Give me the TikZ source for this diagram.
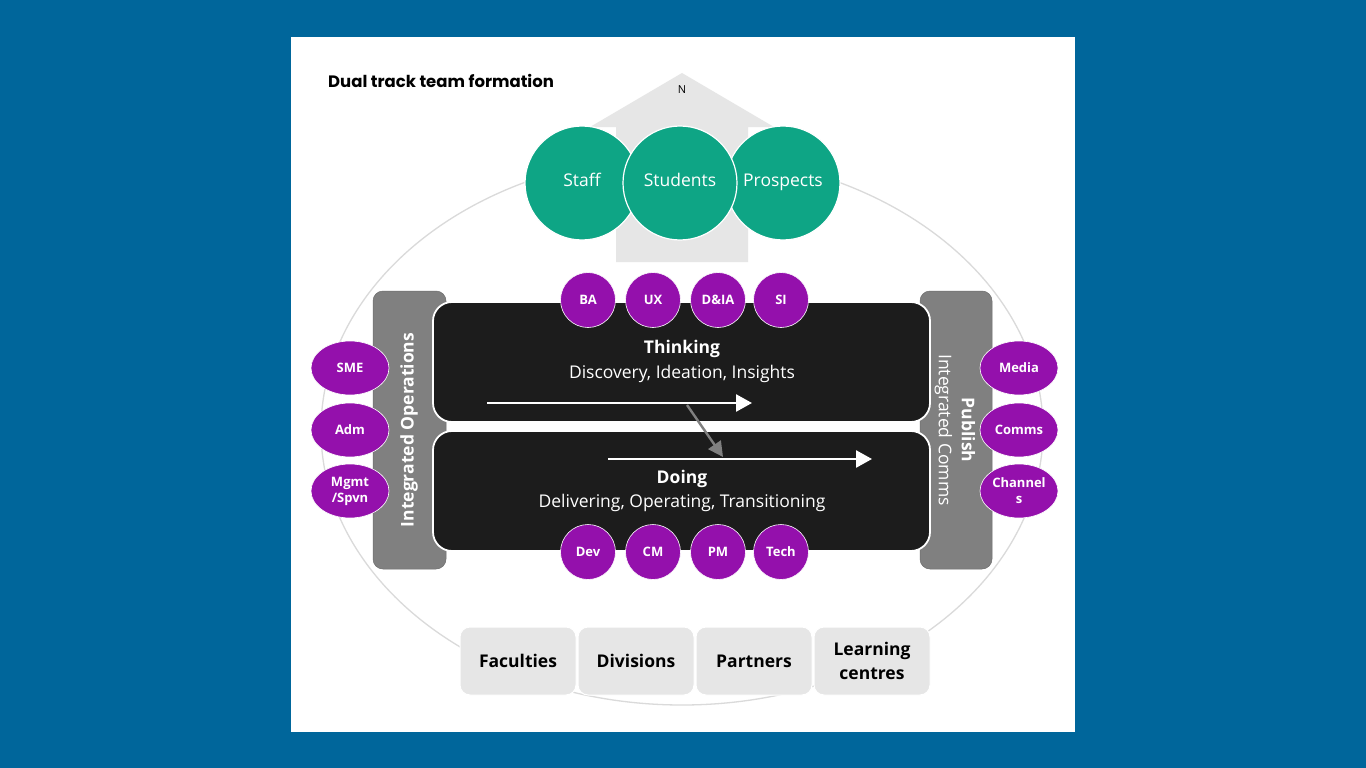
\documentclass[tikz,border=0pt]{standalone}
\usepackage{fontspec}
\setmainfont{Open Sans}
\newfontfamily\titlefont{Poppins}
\usetikzlibrary{arrows.meta,shapes.geometric}

\definecolor{pagebg}{HTML}{00669B}
\definecolor{ringgray}{HTML}{DADADA}
\definecolor{housegray}{HTML}{E6E6E6}
\definecolor{stakegreen}{HTML}{0EA585}
\definecolor{rolepurple}{HTML}{9410AC}
\definecolor{trackblack}{HTML}{1C1C1C}
\definecolor{bargray}{HTML}{808080}

\begin{document}
\begin{tikzpicture}[
  x=1pt,
  y=-1pt,
  font=\fontsize{17.5}{21}\selectfont,
  stake/.style={circle,fill=stakegreen,draw=white,line width=1.2pt,minimum size=114pt,
    inner sep=0pt,text=white,text height=.8em,text depth=.2em,
    font=\fontsize{17.5}{21}\selectfont},
  role/.style={circle,fill=rolepurple,draw=white,line width=.6pt,minimum size=55pt,
    inner sep=0pt,text=white,font=\bfseries\fontsize{13}{16}\selectfont},
  helper/.style={ellipse,fill=rolepurple,draw=white,line width=.6pt,minimum width=78pt,
    minimum height=54pt,inner sep=0pt,text=white,align=center,
    font=\bfseries\fontsize{13}{16}\selectfont},
  sidebar/.style={fill=bargray,draw=bargray!85!black,line width=.5pt,rounded corners=10pt},
  track/.style={fill=trackblack,draw=white,line width=1.8pt,rounded corners=19pt},
  unitbox/.style={fill=housegray,draw=white,line width=1pt,rounded corners=10pt,
    minimum width=116pt,minimum height=68pt,inner sep=0pt,align=center,
    font=\bfseries\fontsize{17.5}{24}\selectfont},
  flow/.style={draw=white,line width=2.6pt,-{Triangle[length=16pt,width=17pt]}},
  handover/.style={draw=bargray,line width=2.4pt,-{Triangle[length=15pt,width=15pt]}}
]
\useasboundingbox (0,0) rectangle (1366,768);

% page and card
\fill[pagebg] (0,0) rectangle (1366,768);
\fill[white] (291,37) rectangle (1075,732);

\node[anchor=base west,inner sep=0pt,font=\titlefont\bfseries\fontsize{16.5}{19}\selectfont]
  (title) at (328,88) {Dual track team formation};

% outer ring
\draw[ringgray,line width=1.3pt] (682,430) ellipse [x radius=361,y radius=275];

% north arrow behind the stakeholders
\fill[housegray] (682,73) -- (774,127) -- (748,127) -- (748,262)
  -- (616,262) -- (616,127) -- (590,127) -- cycle;
\node[font=\fontsize{11}{13}\selectfont] (north) at (682,90) {N};

\node[stake] (staff) at (582,183) {Staff};
\node[stake] (prospects) at (783,183) {Prospects};
\node[stake] (students) at (680,183) {Students};

% side bars
\draw[sidebar] (373,291) rectangle (446,569);
\draw[sidebar] (920,291) rectangle (992,569);
\node[rotate=90,text=white,font=\bfseries\fontsize{17.5}{21}\selectfont]
  (ops) at (409,430) {Integrated Operations};
\node[rotate=-90,text=white,align=center,font=\fontsize{17.5}{23}\selectfont]
  (comms) at (955,430) {\textbf{Publish}\\Integrated Comms};

% the two tracks
\draw[track] (433,302) rectangle (930,422);
\draw[track] (433,431) rectangle (930,551);

\node[text=white,font=\bfseries\fontsize{17.5}{21}\selectfont] (thinking) at (682,349) {Thinking};
\node[text=white] (thinkingsub) at (682,374) {Discovery, Ideation, Insights};
\node[text=white,font=\bfseries\fontsize{17.5}{21}\selectfont] (doing) at (682,479) {Doing};
\node[text=white] (doingsub) at (682,503) {Delivering, Operating, Transitioning};

\coordinate (thinkstart) at (487,403);
\coordinate (thinkend) at (752,403);
\coordinate (dostart) at (608,459);
\coordinate (doend) at (872,459);
\coordinate (handfrom) at (687,405);
\coordinate (handto) at (723,457);
\draw[flow] (thinkstart) -- (thinkend);
\draw[flow] (dostart) -- (doend);
\draw[handover] (handfrom) -- (handto);

% roles on the tracks
\node[role] (ba) at (588,300) {BA};
\node[role] (ux) at (653,300) {UX};
\node[role] (dia) at (718,300) {D\&IA};
\node[role] (si) at (781,300) {SI};

\node[role] (dev) at (588,552) {Dev};
\node[role] (cm) at (653,552) {CM};
\node[role] (pm) at (718,552) {PM};
\node[role] (tech) at (781,552) {Tech};

% helpers on the bars
\node[helper] (sme) at (350,368) {SME};
\node[helper] (adm) at (350,430) {Adm};
\node[helper] (mgmt) at (350,491) {Mgmt\\/Spvn};

\node[helper] (media) at (1019,368) {Media};
\node[helper] (commsrole) at (1019,430) {Comms};
\node[helper] (channels) at (1019,491) {Channel\\s};

% units at the base
\node[unitbox] (faculties) at (518,661) {Faculties};
\node[unitbox] (divisions) at (636,661) {Divisions};
\node[unitbox] (partners) at (754,661) {Partners};
\node[unitbox] (centres) at (872,661) {Learning\\centres};
\end{tikzpicture}
\end{document}
